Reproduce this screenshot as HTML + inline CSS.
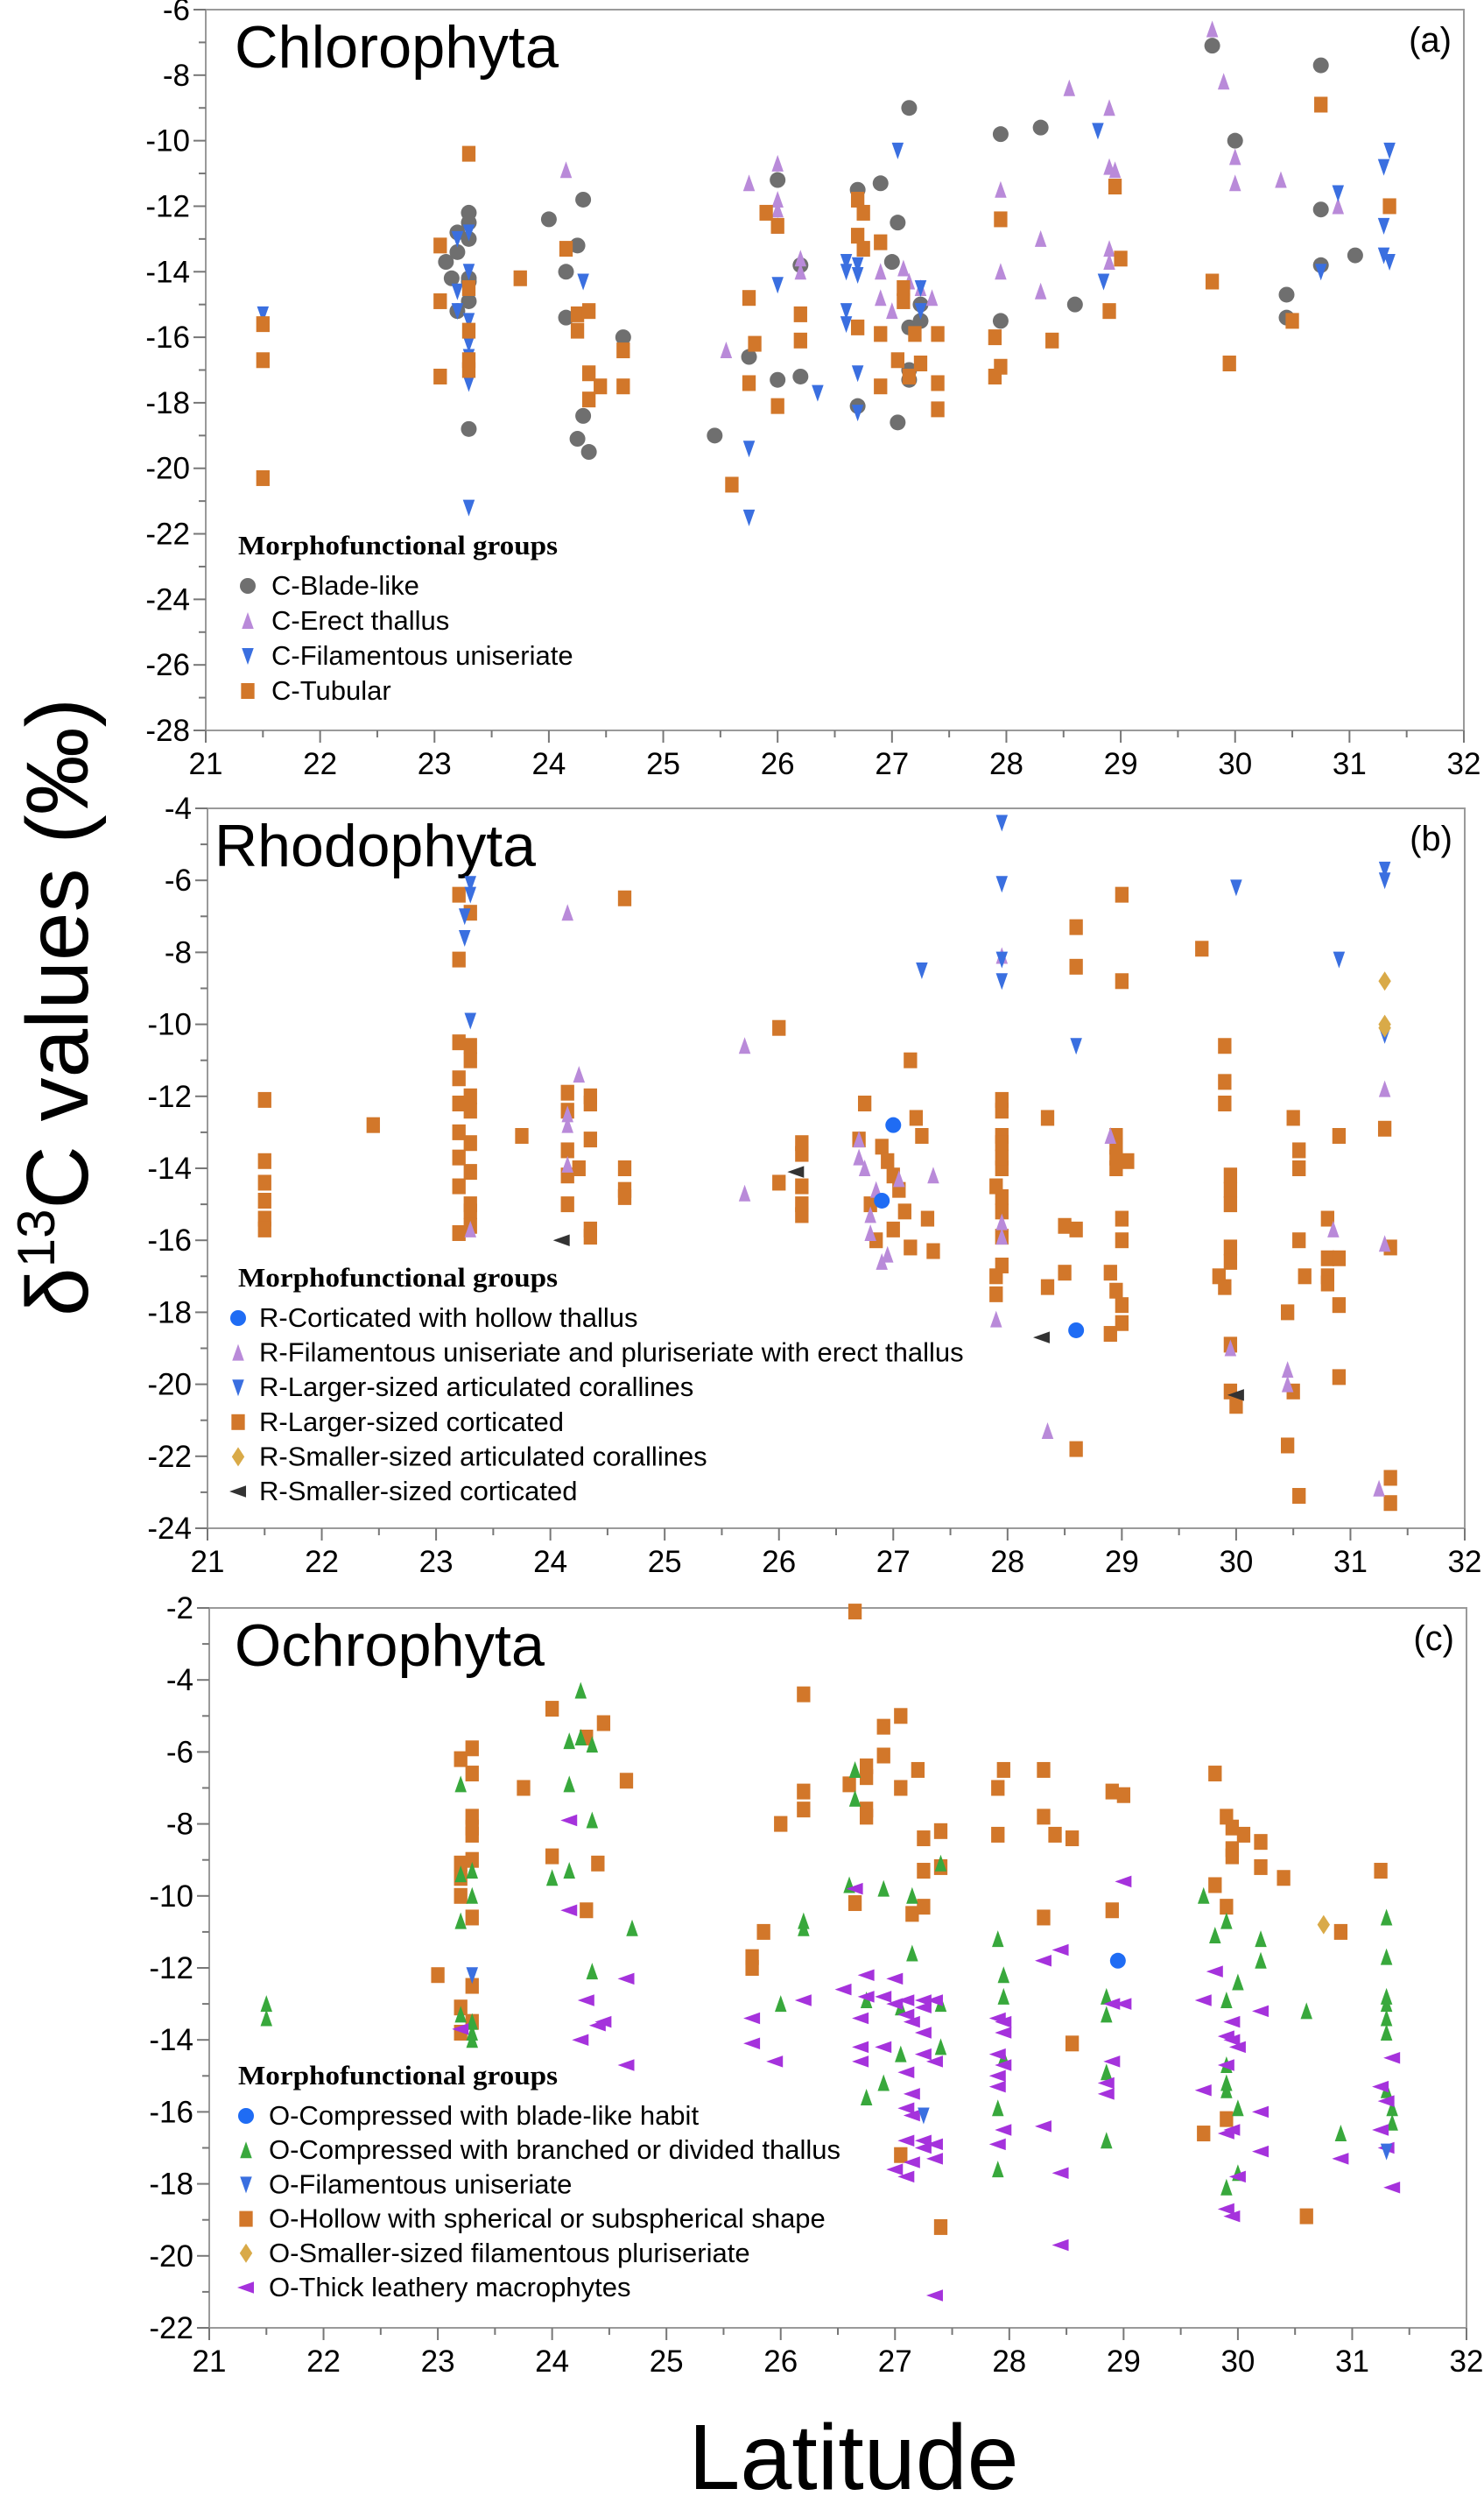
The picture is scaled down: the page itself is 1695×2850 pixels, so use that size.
<!DOCTYPE html>
<html><head><meta charset="utf-8"><style>
html,body{margin:0;padding:0;background:#fff;}
svg{display:block;font-family:"Liberation Sans",sans-serif;}
</style></head><body>
<svg id="chart" width="1695" height="2850" viewBox="0 0 1695 2850" xmlns="http://www.w3.org/2000/svg">
<text transform="translate(100,1150) rotate(-90)" text-anchor="middle" font-size="100">δ<tspan font-size="60" dy="-38">13</tspan><tspan dy="38">C values (‰)</tspan></text>
<text x="975" y="2842" text-anchor="middle" font-size="106">Latitude</text>
</svg>
<script>
// ---- Panel (a) Chlorophyta data ----
const aBladeLat=[23.1,23.2,23.2,23.15,23.3,23.3,23.3,23.3,23.3,23.3,23.2,23.3,24.0,24.15,24.25,24.3,24.15,24.3,24.25,24.35,24.65,25.45,25.75,26.0,26.0,26.2,26.2,26.7,26.7,26.9,27.0,27.05,27.15,27.05,27.15,27.15,27.15,27.25,27.25,27.95,27.95,28.3,28.6,29.8,30.0,30.45,30.45,30.75,30.75,30.75,31.05];
const aBladeVal=[-13.7,-12.8,-13.4,-14.2,-12.2,-12.5,-13.0,-14.2,-14.3,-14.9,-15.2,-18.8,-12.4,-14.0,-13.2,-11.8,-15.4,-18.4,-19.1,-19.5,-16.0,-19.0,-16.6,-11.2,-17.3,-13.8,-17.2,-11.5,-18.1,-11.3,-13.7,-12.5,-9.0,-18.6,-17.0,-17.3,-15.7,-15.0,-15.5,-9.8,-15.5,-9.6,-15.0,-7.1,-10.0,-14.7,-15.4,-7.7,-12.1,-13.8,-13.5];
const aErectLat=[24.15,25.55,25.75,26.0,26.0,26.0,26.0,26.2,26.2,26.9,26.9,27.0,27.1,27.15,27.25,27.35,27.95,27.95,28.3,28.3,28.55,28.9,28.9,28.9,28.9,28.95,29.8,29.9,30.0,30.0,30.4,30.9];
const aErectVal=[-10.9,-16.4,-11.3,-10.7,-11.8,-12.1,-12.6,-13.6,-14.0,-14.0,-14.8,-15.2,-13.9,-14.3,-14.5,-14.8,-11.5,-14.0,-13.0,-14.6,-8.4,-13.3,-13.7,-10.8,-9.0,-10.9,-6.6,-8.2,-10.5,-11.3,-11.2,-12.0];
const aFilLat=[21.5,23.2,23.2,23.2,23.3,23.3,23.3,23.3,23.3,23.3,23.3,24.3,25.75,25.75,26.0,26.35,26.6,26.6,26.6,26.6,26.7,26.7,26.7,26.7,27.05,27.25,27.25,28.8,28.85,30.75,30.9,31.3,31.3,31.3,31.35,31.35];
const aFilVal=[-15.3,-13.0,-14.6,-15.2,-12.8,-14.0,-15.5,-16.2,-16.6,-17.4,-21.2,-14.3,-19.4,-21.5,-14.4,-17.7,-13.7,-14.0,-15.2,-15.6,-13.8,-14.1,-17.1,-18.3,-10.3,-14.5,-15.2,-9.7,-14.3,-14.0,-11.6,-10.8,-12.6,-13.5,-10.3,-13.7];
const aTubLat=[21.5,21.5,21.5,23.05,23.05,23.05,23.3,23.3,23.3,23.3,23.3,23.75,24.15,24.25,24.25,24.35,24.35,24.35,24.45,24.65,24.65,25.6,25.75,25.75,25.8,25.9,26.0,26.0,26.2,26.2,26.7,26.7,26.7,26.75,26.75,26.9,26.9,26.9,27.05,27.1,27.1,27.15,27.2,27.25,27.4,27.4,27.4,27.9,27.9,27.95,27.95,28.4,28.95,28.9,29.0,29.8,29.95,30.75,30.5,31.35];
const aTubVal=[-15.6,-16.7,-20.3,-13.2,-14.9,-17.2,-10.4,-14.5,-15.8,-16.7,-17.0,-14.2,-13.3,-15.3,-15.8,-15.2,-17.1,-17.9,-17.5,-16.4,-17.5,-20.5,-14.8,-17.4,-16.2,-12.2,-12.6,-18.1,-15.3,-16.1,-11.8,-12.9,-15.7,-12.2,-13.3,-13.1,-15.9,-17.5,-16.7,-14.5,-14.9,-17.2,-15.9,-16.8,-15.9,-17.4,-18.2,-16.0,-17.2,-12.4,-16.9,-16.1,-11.4,-15.2,-13.6,-14.3,-16.8,-8.9,-15.5,-12.0];

// ---- Panel (b) Rhodophyta data ----
const bLcLat=[21.5,21.5,21.5,21.5,21.5,21.5,22.45,23.2,23.2,23.2,23.2,23.2,23.2,23.2,23.2,23.2,23.3,23.3,23.3,23.3,23.3,23.3,23.3,23.3,23.3,23.3,23.75,24.15,24.15,24.15,24.15,24.15,24.35,24.35,24.35,24.35,24.35,24.25,24.65,24.65,24.65,24.65,26.0,26.0,26.2,26.2,26.2,26.2,26.2,26.7,26.75,26.8,26.9,26.95,27.0,27.05,27.1,27.15,27.2,27.25,27.3,26.85,27.35,27.0,27.15,27.95,27.95,27.95,27.95,27.95,27.95,27.95,27.95,27.95,27.95,27.9,27.9,27.9,28.35,28.35,28.5,28.5,28.6,28.6,28.6,28.6,29.0,29.0,28.95,28.95,28.95,28.95,29.0,29.0,29.0,29.0,29.05,28.9,28.95,28.9,29.7,29.9,29.9,29.9,29.95,29.95,29.95,29.95,29.95,29.85,29.9,29.95,29.95,30.0,30.5,30.55,30.55,30.55,30.6,30.45,30.5,30.45,30.55,30.8,30.8,30.8,30.8,30.9,30.9,30.9,30.9,31.3,31.35,31.35,31.35];
const bLcVal=[-12.1,-13.8,-14.4,-14.9,-15.4,-15.7,-12.8,-6.4,-8.2,-10.5,-11.5,-12.2,-13.0,-13.7,-14.5,-15.8,-6.9,-11.0,-12.0,-12.4,-13.3,-14.1,-15.0,-15.2,-15.6,-10.6,-13.1,-11.9,-12.4,-13.5,-14.2,-15.0,-12.2,-13.2,-15.7,-15.9,-12.0,-14.0,-6.5,-14.0,-14.6,-14.8,-10.1,-14.4,-13.3,-13.6,-14.5,-15.0,-15.3,-13.2,-12.2,-15.0,-13.4,-13.8,-14.2,-14.6,-15.2,-11.0,-12.6,-13.1,-15.4,-16.0,-16.3,-15.7,-16.2,-12.1,-13.1,-13.3,-14.0,-14.8,-15.2,-15.9,-16.7,-12.4,-13.7,-14.5,-17.0,-17.5,-12.6,-17.3,-15.6,-16.9,-7.3,-8.4,-15.7,-21.8,-6.4,-8.8,-13.1,-13.4,-13.7,-14.0,-15.4,-16.0,-17.8,-18.3,-13.8,-16.9,-17.4,-18.6,-7.9,-10.6,-11.6,-12.2,-14.2,-14.6,-15.0,-16.2,-16.6,-17.0,-17.3,-18.9,-20.2,-20.6,-12.6,-13.5,-14.0,-16.0,-17.0,-18.0,-20.2,-21.7,-23.1,-16.5,-17.0,-17.2,-15.4,-13.1,-16.5,-17.8,-19.8,-12.9,-16.2,-22.6,-23.3];
const bLacLat=[23.3,23.3,23.25,23.25,23.3,27.95,27.95,27.95,27.95,27.25,28.6,30.0,30.9,31.3,31.3,31.3];
const bLacVal=[-6.1,-6.4,-7.0,-7.6,-9.9,-4.4,-6.1,-8.2,-8.8,-8.5,-10.6,-6.2,-8.2,-5.7,-6.0,-10.3];
const bFilLat=[23.3,24.15,24.25,24.15,24.15,24.15,25.7,25.7,26.7,26.7,26.75,26.8,26.8,26.85,26.9,26.95,27.05,27.35,27.95,27.95,27.95,27.9,28.35,28.9,29.95,30.45,30.45,30.85,31.3,31.3,31.25];
const bFilVal=[-15.7,-6.9,-11.4,-12.5,-12.8,-13.9,-10.6,-14.7,-13.2,-13.7,-14.0,-15.3,-15.8,-14.6,-16.6,-16.4,-14.3,-14.2,-8.1,-15.5,-15.9,-18.2,-21.3,-13.1,-19.0,-19.6,-20.0,-15.7,-11.8,-16.1,-22.9];
const bHolLat=[27.0,26.9,28.6];
const bHolVal=[-12.8,-14.9,-18.5];
const bSacLat=[31.3,31.3,31.3];
const bSacVal=[-8.8,-10.1,-10.0];
const bScLat=[24.1,26.15,28.3,30.0];
const bScVal=[-16.0,-14.1,-18.7,-20.3];

// ---- Panel (c) Ochrophyta data ----
const cHolLat=[23.0,23.2,23.2,23.2,23.2,23.2,23.2,23.3,23.3,23.3,23.3,23.3,23.3,23.3,23.3,23.3,23.75,24.0,24.0,24.3,24.3,24.4,24.45,24.65,25.75,25.75,25.85,26.0,26.2,26.2,26.2,26.6,26.65,26.65,26.75,26.75,26.75,26.75,26.9,26.9,27.05,27.05,27.05,27.15,27.2,27.25,27.25,27.25,27.4,27.4,27.4,27.9,27.9,27.95,28.3,28.3,28.3,28.4,28.55,28.55,28.9,28.9,29.0,29.8,29.8,29.9,29.9,29.9,29.95,29.95,29.95,30.05,30.2,30.2,30.4,30.6,30.9,31.25,29.7];
const cHolVal=[-12.2,-6.2,-9.1,-9.5,-10.0,-13.8,-13.1,-5.9,-6.6,-7.8,-8.1,-8.3,-9.0,-10.6,-12.5,-13.5,-7.0,-4.8,-8.9,-5.6,-10.4,-9.1,-5.2,-6.8,-11.7,-12.0,-11.0,-8.0,-4.4,-7.1,-7.6,-6.9,-2.1,-10.2,-6.4,-6.7,-7.6,-7.8,-5.3,-6.1,-5.0,-7.0,-17.2,-10.5,-6.5,-8.4,-9.3,-10.3,-8.2,-9.2,-19.2,-7.0,-8.3,-6.5,-6.5,-7.8,-10.6,-8.3,-8.4,-14.1,-7.1,-10.4,-7.2,-6.6,-9.7,-7.8,-10.3,-16.2,-8.1,-8.7,-8.9,-8.3,-8.5,-9.2,-9.5,-18.9,-11.0,-9.3,-16.6];
const cBrLat=[21.5,21.5,23.2,23.2,23.2,23.2,23.3,23.3,23.3,23.3,23.3,24.0,24.15,24.15,24.15,24.25,24.25,24.35,24.35,24.35,24.7,26.0,26.2,26.2,26.6,26.65,26.65,26.75,26.75,26.9,26.9,27.05,27.05,27.15,27.15,27.4,27.4,27.4,27.9,27.9,27.9,27.95,27.95,27.95,28.85,28.85,28.85,28.85,29.7,29.8,29.9,29.9,29.9,29.9,29.9,29.9,30.0,30.0,30.0,30.2,30.2,30.6,30.9,31.3,31.3,31.3,31.3,31.3,31.3,31.3,31.35,31.35];
const cBrVal=[-13.0,-13.4,-6.9,-9.4,-10.7,-13.3,-9.3,-10.0,-13.5,-13.8,-14.0,-9.5,-5.7,-6.9,-9.3,-4.3,-5.6,-5.8,-7.9,-12.1,-10.9,-13.0,-10.7,-10.9,-9.7,-6.5,-7.3,-12.9,-15.6,-9.8,-15.2,-13.1,-14.4,-10.0,-11.6,-9.1,-13.0,-14.2,-11.2,-15.9,-17.6,-12.2,-12.8,-14.5,-12.8,-13.3,-14.9,-16.8,-10.0,-11.1,-10.7,-12.9,-14.7,-15.2,-15.4,-18.1,-12.4,-15.9,-17.7,-11.2,-11.8,-13.2,-16.6,-10.6,-11.7,-12.8,-13.0,-13.4,-13.8,-15.4,-15.9,-16.3];
const cFilLat=[23.3,27.25,31.3];
const cFilVal=[-12.2,-16.1,-17.1];
const cBlLat=[28.95];
const cBlVal=[-11.8];
const cSfLat=[30.75];
const cSfVal=[-10.8];
const cThLat=[23.2,24.15,24.15,24.25,24.3,24.4,24.45,24.65,24.65,25.75,25.75,25.95,26.2,26.55,26.65,26.7,26.7,26.7,26.75,26.75,26.9,26.9,27.0,27.0,27.0,27.1,27.1,27.1,27.1,27.1,27.1,27.15,27.15,27.15,27.15,27.25,27.25,27.25,27.25,27.25,27.25,27.35,27.35,27.35,27.35,27.35,27.9,27.9,27.9,27.9,27.9,27.95,27.95,27.95,27.95,28.3,28.3,28.45,28.45,28.45,28.85,28.85,28.9,28.9,29.0,29.0,29.7,29.7,29.8,29.9,29.9,29.9,29.9,29.95,29.95,29.95,29.95,30.0,30.0,30.2,30.2,30.2,30.9,31.25,31.25,31.3,31.3,31.35,31.35];
const cThVal=[-13.7,-7.9,-10.4,-14.0,-12.9,-13.6,-13.5,-12.3,-14.7,-13.4,-14.1,-14.6,-12.9,-12.6,-9.8,-13.4,-14.2,-14.6,-12.2,-12.8,-12.8,-14.2,-12.3,-13.0,-17.6,-12.9,-13.3,-14.9,-15.9,-16.8,-17.8,-13.5,-15.5,-16.1,-17.4,-12.9,-13.1,-13.8,-14.4,-16.8,-17.0,-12.9,-14.6,-16.9,-17.3,-21.1,-13.4,-14.4,-15.0,-15.3,-16.9,-13.5,-13.8,-14.7,-16.5,-11.8,-16.4,-11.5,-17.7,-19.7,-15.2,-15.5,-13.0,-14.6,-9.6,-13.0,-12.9,-15.4,-12.1,-13.9,-14.7,-16.6,-18.7,-13.5,-14.0,-16.5,-18.9,-14.2,-17.8,-13.2,-16.0,-17.1,-17.3,-15.3,-16.5,-15.7,-17.0,-14.5,-18.1];

// ---- Tick labels ----
const xTicks=[21,22,23,24,25,26,27,28,29,30,31,32];
const aYTicks=[-6,-8,-10,-12,-14,-16,-18,-20,-22,-24,-26,-28];
const bYTicks=[-4,-6,-8,-10,-12,-14,-16,-18,-20,-22,-24];
const cYTicks=[-2,-4,-6,-8,-10,-12,-14,-16,-18,-20,-22];

const NS='http://www.w3.org/2000/svg';
const svg=document.getElementById('chart');
function mk(tag,attrs,parent){const e=document.createElementNS(NS,tag);for(const k in attrs)e.setAttribute(k,attrs[k]);(parent||svg).appendChild(e);return e;}

const C={gray:'#6f6f6f',lilac:'#b98ad9',blue:'#3a6fe0',orange:'#d2772a',gold:'#d9aa48',dark:'#333333',green:'#38a83c',violet:'#a532dc',dot:'#1f6cf4'};

function marker(g,shape,color,x,y,s){
  let e;
  const h=s/2;
  if(shape==='circle'){e=mk('circle',{cx:x,cy:y,r:h,fill:color},g);}
  else if(shape==='square'){e=mk('rect',{x:x-h*0.85,y:y-h,width:h*1.7,height:s,fill:color},g);}
  else if(shape==='up'){e=mk('polygon',{points:`${x},${y-h-1} ${x-h*0.75},${y+h} ${x+h*0.75},${y+h}`,fill:color},g);}
  else if(shape==='down'){e=mk('polygon',{points:`${x},${y+h+1} ${x-h*0.75},${y-h} ${x+h*0.75},${y-h}`,fill:color},g);}
  else if(shape==='left'){e=mk('polygon',{points:`${x-h-1},${y} ${x+h},${y-h*0.75} ${x+h},${y+h*0.75}`,fill:color},g);}
  else if(shape==='diamond'){e=mk('polygon',{points:`${x},${y-h-2} ${x+h*0.8},${y} ${x},${y+h+2} ${x-h*0.8},${y}`,fill:color},g);}
  return e;
}

function panel(cfg){
  const {id,x0,x1,y0,y1,ymax,ymin,yTicks,title,tag,legendY,legend,series}=cfg;
  const g=mk('g',{});
  
  
  const sx=v=>x0+(v-21)/(32-21)*(x1-x0);
  const sy=v=>y0+(ymax-v)/(ymax-ymin)*(y1-y0);
  const frame=mk('rect',{x:x0,y:y0,width:x1-x0,height:y1-y0,fill:'none',stroke:'#9a9a9a','stroke-width':2},g);
  
  
  xTicks.forEach(t=>{
    const X=sx(t);
    mk('line',{x1:X,y1:y1,x2:X,y2:y1+14,stroke:'#777','stroke-width':2},g);
    if(t<32) mk('line',{x1:sx(t+0.5),y1:y1,x2:sx(t+0.5),y2:y1+8,stroke:'#777','stroke-width':2},g);
    const tl=mk('text',{x:X,y:y1+50,'text-anchor':'middle','font-size':35},g);
    tl.textContent=t;
    
    
  });
  yTicks.forEach(t=>{
    const Y=sy(t);
    mk('line',{x1:x0-14,y1:Y,x2:x0,y2:Y,stroke:'#777','stroke-width':2},g);
    if(t>ymin) mk('line',{x1:x0-8,y1:sy(t-1),x2:x0,y2:sy(t-1),stroke:'#777','stroke-width':2},g);
    const tl=mk('text',{x:x0-18,y:Y+12,'text-anchor':'end','font-size':35},g);
    tl.textContent=t;
    
    
  });
  const tt=mk('text',{x:cfg.titleX,y:y0+66,'font-size':68,'textLength':cfg.titleW,'lengthAdjust':'spacingAndGlyphs'},g);
  tt.textContent=title;
  
  
  const tg=mk('text',{x:x1-14,y:y0+48,'text-anchor':'end','font-size':40},g);
  tg.textContent=tag;
  
  
  series.forEach(s=>{
    const sg=mk('g',{},g);
    
    
    s.lat.forEach((la,i)=>{
      const m=marker(sg,s.shape,s.color,sx(la),sy(s.val[i]),18);
      
      
    });
  });
  const lg=mk('g',{},g);
  
  
  const lt=mk('text',{x:272,y:legendY,'font-size':31,'font-weight':'bold','font-family':'"Liberation Serif",serif','textLength':365,'lengthAdjust':'spacingAndGlyphs'},lg);
  lt.textContent='Morphofunctional groups';
  
  
  legend.forEach((it,i)=>{
    const Y=legendY+46+i*cfg.legendStep;
    const ent=mk('g',{},lg);
    
    
    marker(ent,it.shape,it.color,cfg.legMarkX,Y-10,18);
    const tx=mk('text',{x:cfg.legTextX,y:Y,'font-size':31},ent);
    tx.textContent=it.label;
  });
}

const aSeries=[
 {name:'blade-like',shape:'circle',color:C.gray,lat:aBladeLat,val:aBladeVal},
 {name:'erect-thallus',shape:'up',color:C.lilac,lat:aErectLat,val:aErectVal},
 {name:'filamentous-uniseriate',shape:'down',color:C.blue,lat:aFilLat,val:aFilVal},
 {name:'tubular',shape:'square',color:C.orange,lat:aTubLat,val:aTubVal}];
panel({id:'a',x0:235,x1:1672,y0:11,y1:834,ymax:-6,ymin:-28,yTicks:aYTicks,title:'Chlorophyta',tag:'(a)',titleX:268,titleW:370,legendY:633,legendStep:40,legMarkX:283,legTextX:310,
 legend:[{shape:'circle',color:C.gray,label:'C-Blade-like'},{shape:'up',color:C.lilac,label:'C-Erect thallus'},{shape:'down',color:C.blue,label:'C-Filamentous uniseriate'},{shape:'square',color:C.orange,label:'C-Tubular'}],
 series:aSeries});

const bSeries=[
 {name:'larger-corticated',shape:'square',color:C.orange,lat:bLcLat,val:bLcVal},
 {name:'filamentous-erect',shape:'up',color:C.lilac,lat:bFilLat,val:bFilVal},
 {name:'larger-articulated-corallines',shape:'down',color:C.blue,lat:bLacLat,val:bLacVal},
 {name:'corticated-hollow',shape:'circle',color:C.dot,lat:bHolLat,val:bHolVal},
 {name:'smaller-articulated-corallines',shape:'diamond',color:C.gold,lat:bSacLat,val:bSacVal},
 {name:'smaller-corticated',shape:'left',color:C.dark,lat:bScLat,val:bScVal}];
panel({id:'b',x0:237,x1:1673,y0:923,y1:1745,ymax:-4,ymin:-24,yTicks:bYTicks,title:'Rhodophyta',tag:'(b)',titleX:245,titleW:367,legendY:1469,legendStep:39.6,legMarkX:272,legTextX:296,
 legend:[{shape:'circle',color:C.dot,label:'R-Corticated with hollow thallus'},{shape:'up',color:C.lilac,label:'R-Filamentous uniseriate and pluriseriate with erect thallus'},{shape:'down',color:C.blue,label:'R-Larger-sized articulated corallines'},{shape:'square',color:C.orange,label:'R-Larger-sized corticated'},{shape:'diamond',color:C.gold,label:'R-Smaller-sized articulated corallines'},{shape:'left',color:C.dark,label:'R-Smaller-sized corticated'}],
 series:bSeries});

const cSeries=[
 {name:'hollow-spherical',shape:'square',color:C.orange,lat:cHolLat,val:cHolVal},
 {name:'compressed-branched',shape:'up',color:C.green,lat:cBrLat,val:cBrVal},
 {name:'thick-leathery',shape:'left',color:C.violet,lat:cThLat,val:cThVal},
 {name:'filamentous-uniseriate',shape:'down',color:C.blue,lat:cFilLat,val:cFilVal},
 {name:'compressed-blade-like',shape:'circle',color:C.dot,lat:cBlLat,val:cBlVal},
 {name:'smaller-filamentous-pluriseriate',shape:'diamond',color:C.gold,lat:cSfLat,val:cSfVal}];
panel({id:'c',x0:239,x1:1675,y0:1836,y1:2658,ymax:-2,ymin:-22,yTicks:cYTicks,title:'Ochrophyta',tag:'(c)',titleX:268,titleW:354,legendY:2380,legendStep:39.2,legMarkX:281,legTextX:307,
 legend:[{shape:'circle',color:C.dot,label:'O-Compressed with blade-like habit'},{shape:'up',color:C.green,label:'O-Compressed with branched or divided thallus'},{shape:'down',color:C.blue,label:'O-Filamentous uniseriate'},{shape:'square',color:C.orange,label:'O-Hollow with spherical or subspherical shape'},{shape:'diamond',color:C.gold,label:'O-Smaller-sized filamentous pluriseriate'},{shape:'left',color:C.violet,label:'O-Thick leathery macrophytes'}],
 series:cSeries});
</script>
</body></html>
